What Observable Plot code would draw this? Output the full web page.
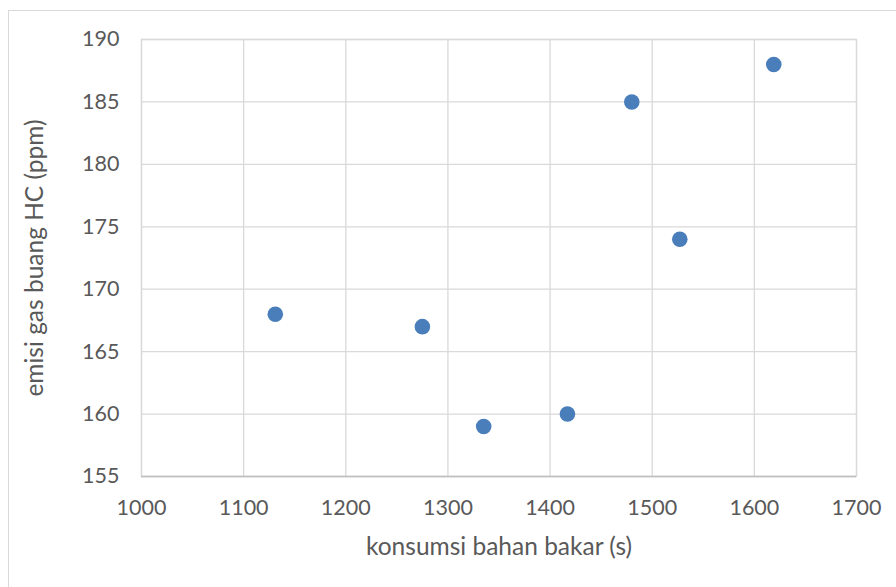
<!DOCTYPE html>
<html><head><meta charset="utf-8">
<script src="https://cdn.jsdelivr.net/npm/d3@7"></script>
<script src="https://cdn.jsdelivr.net/npm/@observablehq/plot@0.6"></script>
<style>
body{margin:0;background:#fff;overflow:hidden;}
#wrap{position:relative;width:896px;height:587px;}
#border{position:absolute;left:8px;top:10px;width:900px;height:600px;border:1px solid #d9d9d9;box-sizing:border-box;}
#chart{position:absolute;left:0;top:0;}
</style></head>
<body><div id="wrap"><div id="border"></div><div id="chart"></div></div>
<script>
const fuel = [1131, 1275, 1335, 1417, 1480, 1527, 1619];
const hc = [168, 167, 159, 160, 185, 174, 188];
const xTicks = [1000, 1100, 1200, 1300, 1400, 1500, 1600, 1700];
const yTicks = [155, 160, 165, 170, 175, 180, 185, 190];
const data = fuel.map((f, i) => ({x: f, y: hc[i]}));

const chart = Plot.plot({
  width: 896, height: 587,
  marginLeft: 141, marginRight: 40, marginTop: 39, marginBottom: 111,
  style: {fontFamily: "Lato, sans-serif", fontSize: "21px", background: "transparent"},
  x: {domain: [1000, 1700]},
  y: {domain: [155, 190]},
  marks: [
    Plot.gridX(xTicks, {stroke: "#d9d9d9", strokeOpacity: 1, strokeWidth: 1.3}),
    Plot.gridY(yTicks, {stroke: "#d9d9d9", strokeOpacity: 1, strokeWidth: 1.3}),
    Plot.frame({stroke: "#d9d9d9", strokeWidth: 1.3}),
    Plot.ruleY([155], {stroke: "#bfbfbf", strokeWidth: 1.3}),
    Plot.axisX(xTicks, {tickSize: 0, tickPadding: 23, tickFormat: "d", fontSize: 21.5, fill: "#595959",
      label: null}),
    Plot.axisY(yTicks, {tickSize: 0, tickPadding: 22, tickFormat: "d", fontSize: 21.5, fill: "#595959",
      label: null}),
    Plot.text(["konsumsi bahan bakar (s)"], {frameAnchor: "bottom", dy: 71, fontSize: 24.5, fill: "#595959", lineAnchor: "middle", textAnchor: "middle"}),
    Plot.text(["emisi gas buang HC (ppm)"], {frameAnchor: "left", dx: -106, rotate: -90, fontSize: 24.5, fill: "#595959", lineAnchor: "middle", textAnchor: "middle"}),
    Plot.dot(data, {x: "x", y: "y", r: 7.8, fill: "#4a7ebb", stroke: "none"})
  ]
});
document.getElementById("chart").appendChild(chart);
</script></body></html>
